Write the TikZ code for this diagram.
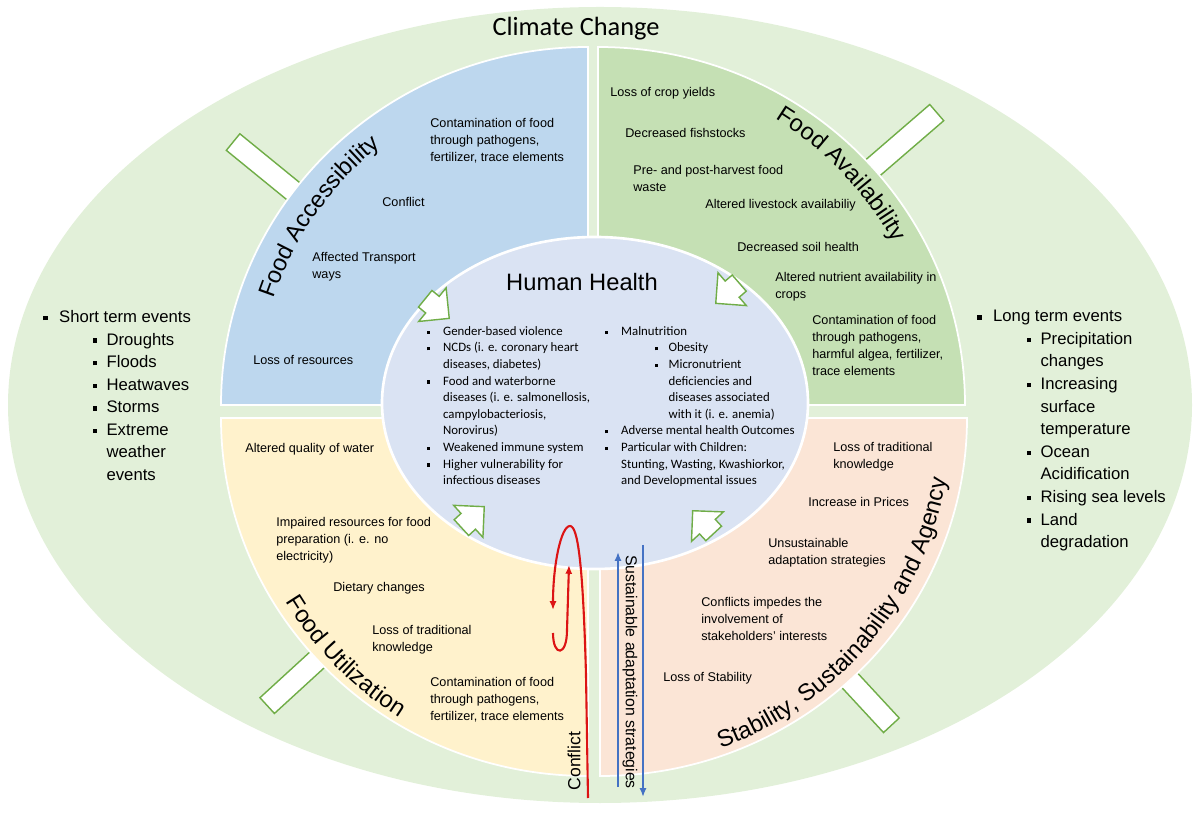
\documentclass[tikz,border=0pt]{standalone}
\usepackage{fontspec}
\setmainfont{Liberation Sans}
\newfontfamily\calibrifont{Carlito}
\usetikzlibrary{shapes.arrows,decorations.text,arrows.meta}
\definecolor{climategreen}{RGB}{226,240,217}
\definecolor{accessblue}{RGB}{189,215,238}
\definecolor{availgreen}{RGB}{197,224,180}
\definecolor{utilyellow}{RGB}{255,242,204}
\definecolor{stabpink}{RGB}{251,229,214}
\definecolor{healthblue}{RGB}{218,227,243}
\definecolor{arrowgreen}{RGB}{112,173,71}
\definecolor{conflictred}{RGB}{220,20,20}
\definecolor{adaptblue}{RGB}{68,114,196}
\newcommand{\titlefont}{\fontsize{13.5}{16}\selectfont}
\newcommand{\sqbul}{\rule[0.25ex]{0.5ex}{0.5ex}}
\newcommand{\lvone}{\makebox[9pt][l]{\sqbul}}
\newcommand{\lvtwo}{\hspace*{28pt}\makebox[8pt][l]{\sqbul}}
\newcommand{\lvcont}{\hspace*{9pt}}
\newcommand{\lvtwocont}{\hspace*{36pt}}

\begin{document}
\begin{tikzpicture}[x=0.02cm, y=0.02cm]
    \tikzstyle{item} = [font=\fontsize{7.2}{9.6}\selectfont, align=left, anchor=north west, inner sep=0pt]
    \tikzstyle{healthitem} = [font=\calibrifont\fontsize{7.3}{9.45}\selectfont, align=left, anchor=north west, inner sep=0pt]
    \tikzstyle{sidelist} = [font=\fontsize{9.5}{12.85}\selectfont, align=left, anchor=north west, inner sep=0pt]
    \tikzstyle{blockarrow} = [single arrow, draw=arrowgreen, fill=white, line width=0.8pt, inner sep=0pt, inner ysep=0.2cm, single arrow head extend=0.22cm, single arrow tip angle=90, minimum width=0pt, anchor=tip]
    \tikzstyle{quadrant} = [draw=white, line width=1pt]
    \tikzstyle{arctitle} = [decorate, decoration={text along path, text align=center}]
    \tikzstyle{conflict} = [draw=conflictred, line width=1.2pt, -{Latex[length=5pt,width=4pt]}]
    \tikzstyle{adapt} = [draw=adaptblue, line width=1.1pt, -{Latex[length=5pt,width=4pt]}]

    \useasboundingbox (0,0) rectangle (1200,815);
    \fill[climategreen] (600,410) ellipse[x radius=592, y radius=398];
    \node[font=\calibrifont\fontsize{15}{18}\selectfont, anchor=base] (climate) at (576,779) {Climate Change};

    % arrows from the climate ring, mostly hidden behind the quadrants
    \node[blockarrow, minimum height=5.58cm, rotate=-39.2] (arTL) at (450,496) {};
    \node[blockarrow, minimum height=5.84cm, rotate=-139.2] (arTR) at (715,511) {};
    \node[blockarrow, minimum height=5.89cm, rotate=42.5] (arBL) at (485,309) {};
    \node[blockarrow, minimum height=5.85cm, rotate=132.8] (arBR) at (692,305) {};

    % the four pillars
    \filldraw[quadrant, fill=accessblue] (588,410) -- ++(-367,0) arc[start angle=180, end angle=90, x radius=367, y radius=358] -- cycle;
    \filldraw[quadrant, fill=availgreen] (598,410) -- ++(0,358) arc[start angle=90, end angle=0, x radius=367, y radius=358] -- cycle;
    \filldraw[quadrant, fill=utilyellow] (588,397) -- ++(0,-358) arc[start angle=270, end angle=180, x radius=367, y radius=358] -- cycle;
    \filldraw[quadrant, fill=stabpink] (600,397) -- ++(367,0) arc[start angle=0, end angle=-90, x radius=367, y radius=358] -- cycle;

    \path[arctitle, decoration={text={|\titlefont|Food Accessibility}}] (588,410) ++(175:332) arc[start angle=175, end angle=115, radius=332];
    \path[arctitle, decoration={text={|\titlefont|Food Availability}}] (598,410) ++(73.5:337) arc[start angle=73.5, end angle=13.5, radius=337];
    \path[arctitle, decoration={text={|\titlefont|Food Utilization}}] (588,397) ++(194.5:354) arc[start angle=194.5, end angle=254.5, radius=354];
    \path[arctitle, decoration={text={|\titlefont|Stability, Sustainability and Agency}}] (600,397) ++(-75:352) arc[start angle=-75, end angle=-5, radius=352];

    % human health in the middle
    \filldraw[fill=healthblue, draw=white, line width=1.5pt] (595,412) ellipse[x radius=213, y radius=166];
    \node[blockarrow, minimum height=0.62cm, rotate=-39.2] (hdTL) at (450,496) {};
    \node[blockarrow, minimum height=0.62cm, rotate=-139.2] (hdTR) at (715,511) {};
    \node[blockarrow, minimum height=0.62cm, rotate=42.5] (hdBL) at (485,309) {};
    \node[blockarrow, minimum height=0.62cm, rotate=132.8] (hdBR) at (692,305) {};

    \node[font=\fontsize{13.5}{16}\selectfont] (health) at (582,533) {Human Health};
    \node[healthitem] (healthL) at (427,489) {\lvone Gender-based violence\\ \lvone NCDs (i. e. coronary heart\\ \lvcont diseases, diabetes)\\ \lvone Food and waterborne\\ \lvcont diseases (i. e. salmonellosis,\\ \lvcont campylobacteriosis,\\ \lvcont Norovirus)\\ \lvone Weakened immune system\\ \lvone Higher vulnerability for\\ \lvcont infectious diseases};
    \node[healthitem] (healthR) at (605,489) {\lvone Malnutrition\\ \lvtwo Obesity\\ \lvtwo Micronutrient\\ \lvtwocont deficiencies and\\ \lvtwocont diseases associated\\ \lvtwocont with it (i. e. anemia)\\ \lvone Adverse mental health Outcomes\\ \lvone Particular with Children:\\ \lvcont Stunting, Wasting, Kwashiorkor,\\ \lvcont and Developmental issues};

    % accessibility
    \node[item] (accContam) at (430,697) {Contamination of food\\through pathogens,\\fertilizer, trace elements};
    \node[item] (accConflict) at (382,618) {Conflict};
    \node[item] (accTransport) at (312,563) {Affected Transport\\ways};
    \node[item] (accResources) at (253,460) {Loss of resources};

    % availability
    \node[item] (avCrop) at (610,728) {Loss of crop yields};
    \node[item] (avFish) at (625,687) {Decreased fishstocks};
    \node[item] (avWaste) at (633,650) {Pre- and post-harvest food\\waste};
    \node[item] (avLivestock) at (705,616) {Altered livestock availabiliy};
    \node[item] (avSoil) at (737,573) {Decreased soil health};
    \node[item] (avNutrient) at (775,543) {Altered nutrient availability in\\crops};
    \node[item] (avContam) at (812,500) {Contamination of food\\through pathogens,\\harmful algea, fertilizer,\\trace elements};

    % utilization
    \node[item] (utWater) at (245,372) {Altered quality of water};
    \node[item] (utPrep) at (276,298) {Impaired resources for food\\preparation (i. e. no\\electricity)};
    \node[item] (utDiet) at (333,233) {Dietary changes};
    \node[item] (utKnow) at (372,190) {Loss of traditional\\knowledge};
    \node[item] (utContam) at (430,138) {Contamination of food\\through pathogens,\\fertilizer, trace elements};

    % stability
    \node[item] (stKnow) at (833,373) {Loss of traditional\\knowledge};
    \node[item] (stPrices) at (808,318) {Increase in Prices};
    \node[item] (stUnsust) at (768,277) {Unsustainable\\adaptation strategies};
    \node[item] (stConflicts) at (701,218) {Conflicts impedes the\\involvement of\\stakeholders' interests};
    \node[item] (stLoss) at (663,143) {Loss of Stability};

    % climate events
    \node[sidelist] (shortTerm) at (43,505) {\lvone Short term events\\ \lvtwo Droughts\\ \lvtwo Floods\\ \lvtwo Heatwaves\\ \lvtwo Storms\\ \lvtwo Extreme\\ \lvtwocont weather\\ \lvtwocont events};
    \node[sidelist] (longTerm) at (977,505) {\lvone Long term events\\ \lvtwo Precipitation\\ \lvtwocont changes\\ \lvtwo Increasing\\ \lvtwocont surface\\ \lvtwocont temperature\\ \lvtwo Ocean\\ \lvtwocont Acidification\\ \lvtwo Rising sea levels\\ \lvtwo Land\\ \lvtwocont degradation};

    % conflict spiral and adaptation arrows
    \coordinate (cfBottom) at (588,17);
    \coordinate (cfTurn) at (570,289);
    \coordinate (cfDown) at (553,205);
    \coordinate (cfLoop) at (553,182);
    \coordinate (cfUp) at (569,250);
    \draw[conflict] (cfBottom) -- (586,140) .. controls (583,250) and (578,289) .. (cfTurn) .. controls (561,289) and (553,250) .. (cfDown);
    \draw[conflict] (cfLoop) .. controls (553,158) and (567,158) .. (567,185) -- (cfUp);
    \node[font=\fontsize{10}{12}\selectfont, rotate=90] (conflictLabel) at (574,54) {Conflict};

    \coordinate (sapUpFrom) at (618,28);
    \coordinate (sapUpTo) at (618,263);
    \coordinate (sapDownFrom) at (643,270);
    \coordinate (sapDownTo) at (643,18);
    \draw[adapt] (sapUpFrom) -- (sapUpTo);
    \draw[adapt] (sapDownFrom) -- (sapDownTo);
    \node[font=\fontsize{9}{11}\selectfont, rotate=-90] (adaptLabel) at (630,143) {Sustainable adaptation strategies};
\end{tikzpicture}
\end{document}
